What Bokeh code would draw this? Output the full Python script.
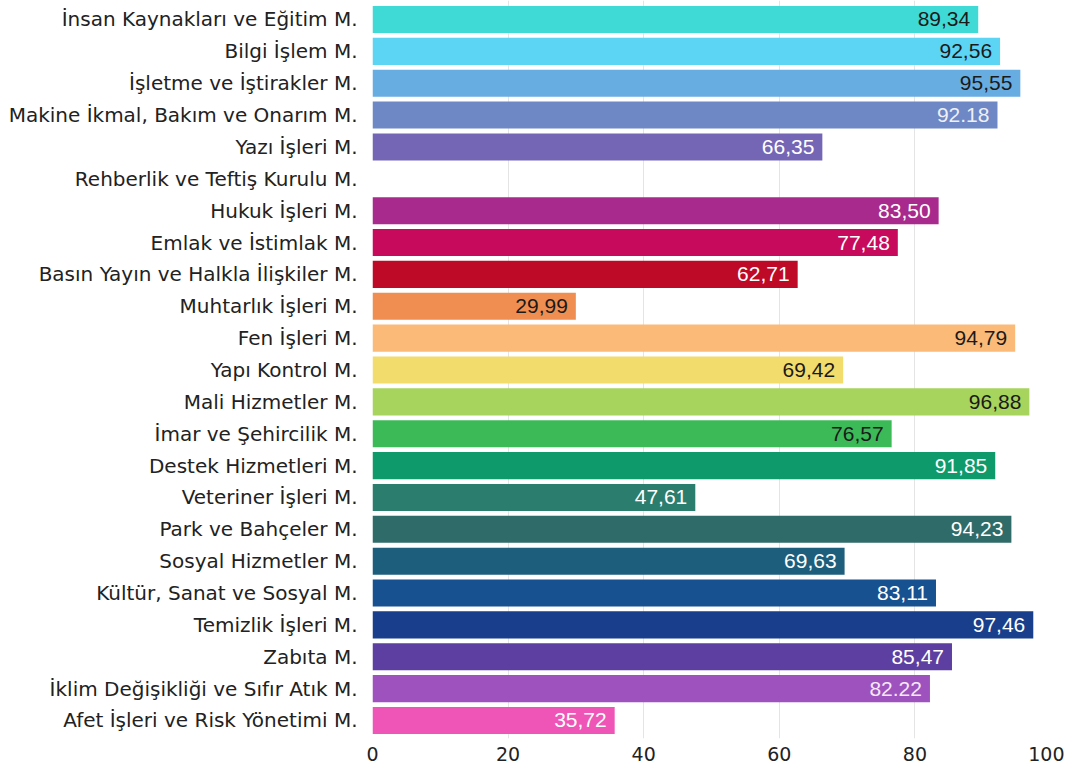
import math
from bokeh.plotting import figure
from bokeh.models import ColumnDataSource, Range1d, FixedTicker
from bokeh.core.properties import value
from bokeh.embed import file_html
from bokeh.resources import INLINE

categories = [
    "İnsan Kaynakları ve Eğitim M.",
    "Bilgi İşlem M.",
    "İşletme ve İştirakler M.",
    "Makine İkmal, Bakım ve Onarım M.",
    "Yazı İşleri M.",
    "Rehberlik ve Teftiş Kurulu M.",
    "Hukuk İşleri M.",
    "Emlak ve İstimlak M.",
    "Basın Yayın ve Halkla İlişkiler M.",
    "Muhtarlık İşleri M.",
    "Fen İşleri M.",
    "Yapı Kontrol M.",
    "Mali Hizmetler M.",
    "İmar ve Şehircilik M.",
    "Destek Hizmetleri M.",
    "Veteriner İşleri M.",
    "Park ve Bahçeler M.",
    "Sosyal Hizmetler M.",
    "Kültür, Sanat ve Sosyal M.",
    "Temizlik İşleri M.",
    "Zabıta M.",
    "İklim Değişikliği ve Sıfır Atık M.",
    "Afet İşleri ve Risk Yönetimi M.",
]

values = [89.34, 92.56, 95.55, 92.18, 66.35, float("nan"), 83.50, 77.48, 62.71, 29.99,
          94.79, 69.42, 96.88, 76.57, 91.85, 47.61, 94.23, 69.63, 83.11, 97.46,
          85.47, 82.22, 35.72]

value_labels = ["89,34", "92,56", "95,55", "92.18", "66,35", "", "83,50", "77,48", "62,71", "29,99",
                "94,79", "69,42", "96,88", "76,57", "91,85", "47,61", "94,23", "69,63", "83,11", "97,46",
                "85,47", "82.22", "35,72"]

bar_colors = ["#40DAD6", "#5CD4F4", "#68ADE2", "#6E87C5", "#7566B5", "#FFFFFF", "#A72A8C",
              "#C80A5C", "#BE0A26", "#EF8E50", "#FBBA78", "#F2DC6C", "#A6D45C", "#3CBA58",
              "#0E9A6A", "#2B7D6D", "#2F6B69", "#1D5E7C", "#175190", "#183E8C", "#5C3FA0",
              "#9E52BE", "#EE55B6"]

label_colors = ["#1a1a1a", "#1a1a1a", "#1a1a1a", "#eef0f6", "#ffffff", "#ffffff", "#ffffff",
                "#ffffff", "#ffffff", "#1a1a1a", "#1a1a1a", "#1a1a1a", "#1a1a1a", "#1a1a1a",
                "#ffffff", "#ffffff", "#ffffff", "#ffffff", "#ffffff", "#ffffff", "#ffffff",
                "#f4e8f8", "#ffffff"]

x_ticks = [0, 20, 40, 60, 80, 100]

idx = list(range(len(categories)))
src = ColumnDataSource(dict(
    y=idx,
    v=[0 if math.isnan(v) else v for v in values],
    lab=value_labels,
    fill=bar_colors,
    tc=label_colors,
))

p = figure(width=1064, height=763, output_backend="svg", toolbar_location=None,
           x_range=Range1d(0, 100), y_range=Range1d(len(categories) - 1 + 0.565, -0.596),
           min_border_left=372, min_border_right=14, min_border_top=0, min_border_bottom=25)
p.outline_line_color = None
p.background_fill_color = "white"

p.hbar(y="y", left=0, right="v", height=0.85, source=src, fill_color="fill", line_color=None)
p.text(x="v", y="y", text="lab", source=src, text_align="right", text_baseline="middle",
       x_offset=-8, text_color="tc", text_font=value("Liberation Sans"), text_font_size="21px")

p.xaxis.ticker = FixedTicker(ticks=x_ticks)
p.xaxis.axis_line_color = None
p.xaxis.major_tick_line_color = None
p.xaxis.minor_tick_line_color = None
p.xaxis.major_label_text_font = "DejaVu Sans"
p.xaxis.major_label_text_font_size = "19px"
p.xaxis.major_label_text_color = "#222222"
p.xaxis.major_label_standoff = 2

p.yaxis.ticker = FixedTicker(ticks=idx)
p.yaxis.major_label_overrides = {i: c for i, c in enumerate(categories)}
p.yaxis.axis_line_color = None
p.yaxis.major_tick_line_color = None
p.yaxis.minor_tick_line_color = None
p.yaxis.major_label_text_font = "DejaVu Sans"
p.yaxis.major_label_text_font_size = "20px"
p.yaxis.major_label_text_color = "#222222"
p.yaxis.major_label_standoff = 9

p.xgrid.ticker = FixedTicker(ticks=x_ticks)
p.xgrid.grid_line_color = "#e4e4e4"
p.ygrid.grid_line_color = None

open("out.html", "w").write(file_html(p, INLINE))
